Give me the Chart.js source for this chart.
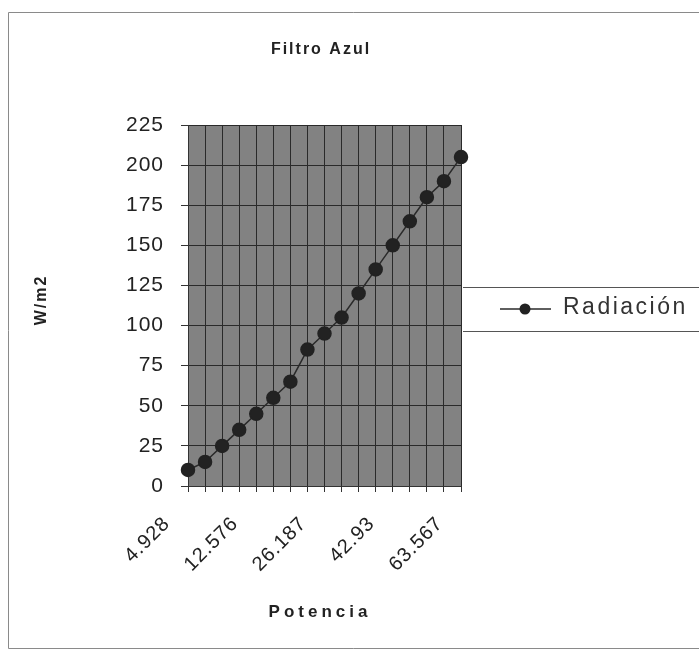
<!DOCTYPE html>
<html>
<head>
<meta charset="utf-8">
<script src="https://cdn.jsdelivr.net/npm/chart.js@4.4.1/dist/chart.umd.min.js"></script>
<style>
  html, body { margin: 0; padding: 0; background: #fff; }
</style>
</head>
<body>
<canvas id="grafico" width="699" height="659"></canvas>
<script>
// Potencia (eje x, categorias) - solo se ven cada 4 etiquetas
const potencia = ['4.928', '6.71', '8.53', '10.49', '12.576', '15.62', '18.87', '22.41', '26.187',
  '30.12', '34.25', '38.51', '42.93', '47.81', '52.77', '58.06', '63.567'];
// Radiacion medida (W/m2)
const radiacion = [10, 15, 25, 35, 45, 55, 65, 85, 95, 105, 120, 135, 150, 165, 180, 190, 205];
const ticksY = [0, 25, 50, 75, 100, 125, 150, 175, 200, 225];

const titulo = 'Filtro Azul';
const tituloX = 'Potencia';
const tituloY = 'W/m2';
const nombreSerie = 'Radiación';

const fondoPlot = {
  id: 'fondoPlot',
  beforeDraw(chart) {
    const { ctx, chartArea: a } = chart;
    ctx.save();
    ctx.fillStyle = '#828282';
    ctx.fillRect(a.left, a.top, a.right - a.left, a.bottom - a.top);
    ctx.restore();
    ctx.letterSpacing = '1px'; // texto de los ticks algo espaciado, como el original
  },
  afterDraw(chart) {
    const ctx = chart.ctx;
    ctx.save();
    // marco del grafico
    ctx.strokeStyle = '#8a8a8a';
    ctx.lineWidth = 1;
    ctx.beginPath();
    ctx.moveTo(699, 12.5);
    ctx.lineTo(8.5, 12.5);
    ctx.lineTo(8.5, 648.5);
    ctx.lineTo(699, 648.5);
    ctx.stroke();

    ctx.fillStyle = '#222';
    ctx.textAlign = 'center';
    ctx.textBaseline = 'middle';

    // titulo
    ctx.font = 'bold 16px "Liberation Sans", Arial, sans-serif';
    ctx.letterSpacing = '2px';
    ctx.fillText(titulo, 321, 50);

    // titulo eje x
    ctx.font = 'bold 17px "Liberation Sans", Arial, sans-serif';
    ctx.letterSpacing = '4px';
    ctx.fillText(tituloX, 320, 612);

    // titulo eje y
    ctx.save();
    ctx.translate(42, 300);
    ctx.rotate(-Math.PI / 2);
    ctx.font = 'bold 16px "Liberation Sans", Arial, sans-serif';
    ctx.letterSpacing = '2px';
    ctx.fillText(tituloY, 0, 0);
    ctx.restore();

    // leyenda
    const ds = chart.data.datasets[0];
    ctx.strokeStyle = '#555';
    ctx.beginPath();
    ctx.moveTo(463, 287.5); ctx.lineTo(699, 287.5);
    ctx.moveTo(463, 331.5); ctx.lineTo(699, 331.5);
    ctx.stroke();
    ctx.strokeStyle = ds.borderColor;
    ctx.lineWidth = 1.5;
    ctx.beginPath();
    ctx.moveTo(500, 309); ctx.lineTo(551, 309);
    ctx.stroke();
    ctx.fillStyle = ds.pointBackgroundColor;
    ctx.beginPath();
    ctx.arc(525, 309, 5.5, 0, Math.PI * 2);
    ctx.fill();
    ctx.fillStyle = '#333';
    ctx.textAlign = 'left';
    ctx.font = '23px "Liberation Sans", Arial, sans-serif';
    ctx.letterSpacing = '2.5px';
    ctx.fillText(ds.label, 563, 308);
    ctx.restore();
    ctx.letterSpacing = '0px';
  }
};

const ctx = document.getElementById('grafico').getContext('2d');
const myChart = new Chart(ctx, {
  type: 'line',
  data: {
    labels: potencia,
    datasets: [{
      label: nombreSerie,
      data: radiacion,
      borderColor: '#2a2a2a',
      borderWidth: 1.5,
      pointBackgroundColor: '#222222',
      pointBorderColor: '#222222',
      pointRadius: 6.5,
      pointHoverRadius: 6.5,
      tension: 0,
      fill: false
    }]
  },
  options: {
    responsive: false,
    animation: false,
    devicePixelRatio: 1,
    layout: { padding: { top: 125, left: 60, right: 238, bottom: 0 } },
    plugins: {
      legend: { display: false },
      title: { display: false },
      tooltip: { enabled: false }
    },
    scales: {
      x: {
        type: 'category',
        offset: false,
        afterFit(scale) { scale.height = 659 - 486; },
        grid: { color: '#2a2a2a', lineWidth: 1, tickLength: 6, tickColor: '#333', offset: false },
        border: { color: '#333', width: 1 },
        ticks: {
          autoSkip: false,
          minRotation: 45,
          maxRotation: 45,
          labelOffset: -21,
          padding: 20,
          color: '#222',
          font: { family: '"Liberation Sans", Arial, sans-serif', size: 20 },
          callback: function (val, i) { return i % 4 === 0 ? this.getLabelForValue(val) : ''; }
        }
      },
      y: {
        min: 0,
        max: 225,
        afterFit(scale) { scale.width = 128; },
        afterBuildTicks(scale) { scale.ticks = ticksY.map(v => ({ value: v })); },
        grid: { color: '#2a2a2a', lineWidth: 1, tickLength: 7, tickColor: '#333' },
        border: { color: '#333', width: 1 },
        ticks: {
          padding: 17,
          color: '#222',
          font: { family: '"Liberation Sans", Arial, sans-serif', size: 21 }
        }
      }
    }
  },
  plugins: [fondoPlot]
});
</script>
</body>
</html>
